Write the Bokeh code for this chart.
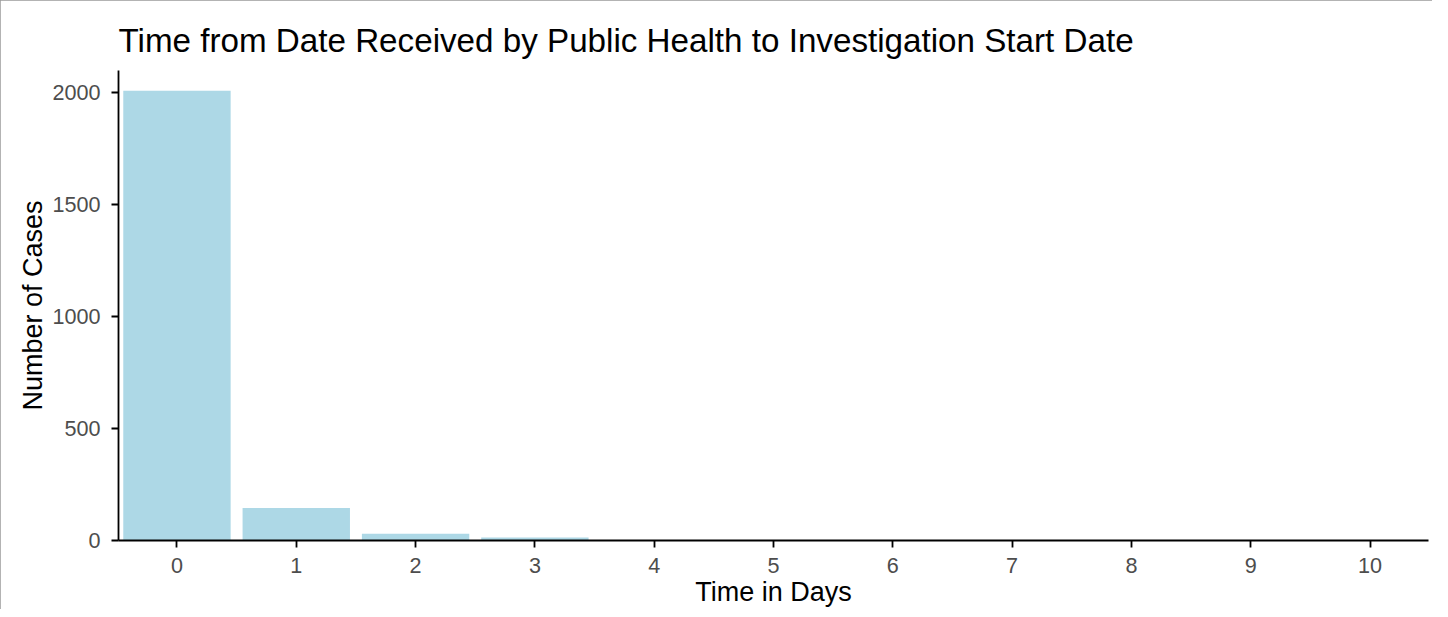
from bokeh.plotting import figure
from bokeh.models import Range1d, FixedTicker, ColumnDataSource
from bokeh.embed import file_html
from bokeh.resources import INLINE

# Data
days = [0, 1, 2, 3, 4, 5, 6, 7, 8, 9, 10]
cases = [2010, 145, 30, 13, 2, 1, 1, 1, 1, 1, 1]
y_ticks = [0, 500, 1000, 1500, 2000]
title_text = "Time from Date Received by Public Health to Investigation Start Date"
x_label = "Time in Days"
y_label = "Number of Cases"

FONT = "Liberation Sans"

source = ColumnDataSource(data=dict(days=days, cases=cases))

p = figure(
    width=1432, height=609,
    x_range=Range1d(-0.49, 10.49),
    y_range=Range1d(0, 2100),
    output_backend="svg",
    toolbar_location=None,
    min_border_left=118, min_border_right=4,
    min_border_top=70, min_border_bottom=66,
)
p.styles = {"outline": "1px solid #9a9a9a", "outline-offset": "-1px"}

p.vbar(x="days", top="cases", width=0.9, bottom=0, source=source,
       fill_color="#ADD8E6", line_color=None)

p.title.text = title_text
p.title.text_font = FONT
p.title.text_font_size = "33.2px"
p.title.text_font_style = "normal"
p.title.text_color = "black"
p.title.offset = 0
p.title.standoff = 23

p.xgrid.visible = False
p.ygrid.visible = False
p.outline_line_color = None
p.background_fill_color = "white"
p.border_fill_color = "white"

for ax in (p.xaxis[0], p.yaxis[0]):
    ax.axis_line_color = "black"
    ax.axis_line_width = 1.8
    ax.major_tick_line_color = "black"
    ax.major_tick_line_width = 1.8
    ax.major_tick_in = 0
    ax.major_tick_out = 7
    ax.minor_tick_line_color = None
    ax.major_label_text_font = FONT
    ax.major_label_text_font_size = "21.6px"
    ax.major_label_text_color = "#4D4D4D"
    ax.axis_label_text_font = FONT
    ax.axis_label_text_font_size = "27px"
    ax.axis_label_text_font_style = "normal"
    ax.axis_label_text_color = "black"

p.xaxis[0].ticker = FixedTicker(ticks=days)
p.xaxis[0].axis_label = x_label
p.xaxis[0].major_label_standoff = 10
p.xaxis[0].axis_label_standoff = 1

p.yaxis[0].ticker = FixedTicker(ticks=y_ticks)
p.yaxis[0].axis_label = y_label
p.yaxis[0].major_label_standoff = 11
p.yaxis[0].axis_label_standoff = 1

open("out.html", "w").write(file_html(p, INLINE))
